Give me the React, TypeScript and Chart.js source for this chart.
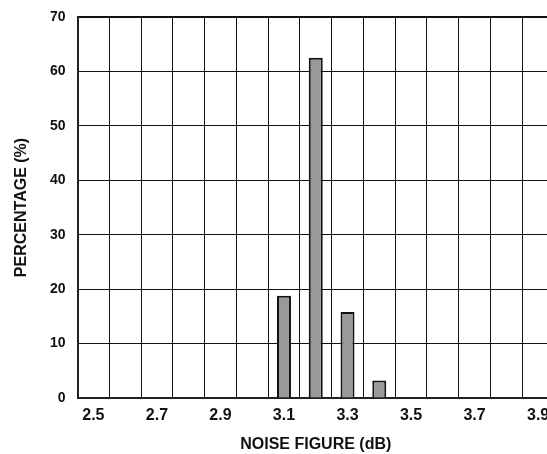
import React, { useEffect, useRef } from 'react';
import { Chart, registerables } from 'chart.js';

Chart.register(...registerables);

const categories = ['2.5', '2.6', '2.7', '2.8', '2.9', '3.0', '3.1', '3.2', '3.3', '3.4', '3.5', '3.6', '3.7', '3.8', '3.9'];
const percentages: (number | null)[] = [null, null, null, null, null, null, 18.8, 62.5, 15.8, 3.2, null, null, null, null, null];
const yMin = 0;
const yMax = 70;
const yStep = 10;
const xTitle = 'NOISE FIGURE (dB)';
const yTitle = 'PERCENTAGE (%)';

const FONT = "'Liberation Sans', Arial, Helvetica, sans-serif";

export default function App() {
  const canvasRef = useRef<HTMLCanvasElement | null>(null);

  useEffect(() => {
    if (!canvasRef.current) return;
    const chart = new Chart(canvasRef.current, {
      type: 'bar',
      data: {
        labels: categories,
        datasets: [
          {
            data: percentages,
            backgroundColor: '#999999',
            borderColor: '#111111',
            borderWidth: 2,
            barPercentage: 0.44,
            categoryPercentage: 1,
          },
        ],
      },
      options: {
        animation: false,
        responsive: false,
        devicePixelRatio: 1,
        layout: { padding: { left: 0, top: 17, right: 16, bottom: 0 } },
        plugins: {
          legend: { display: false },
          tooltip: { enabled: false },
        },
        scales: {
          x: {
            type: 'category',
            offset: true,
            grid: {
              offset: true,
              color: '#111111',
              lineWidth: 1,
              drawTicks: false,
            },
            border: { display: true, color: '#222222', width: 2 },
            ticks: {
              autoSkip: false,
              maxRotation: 0,
              minRotation: 0,
              padding: 8,
              color: '#111111',
              font: { family: FONT, size: 16, weight: 'bold' },
              callback: (_v: any, idx: number) => (idx % 2 === 0 ? categories[idx] : ''),
            },
            title: {
              display: true,
              text: xTitle,
              color: '#111111',
              font: { family: FONT, size: 16, weight: 'bold' },
              padding: { top: 0, bottom: 0 },
            },
            afterFit: (scale: any) => {
              scale.height = 56;
              scale.paddingLeft = 0;
              scale.paddingRight = 0;
              scale.paddingTop = 0;
              scale.paddingBottom = 0;
            },
          },
          y: {
            min: yMin,
            max: yMax,
            grid: {
              color: '#111111',
              lineWidth: (ctx: any) => (ctx.tick && ctx.tick.value === yMax ? 2 : 1),
              drawTicks: false,
            },
            border: { display: true, color: '#222222', width: 2 },
            ticks: {
              stepSize: yStep,
              padding: 12,
              color: '#111111',
              font: { family: FONT, size: 14, weight: 'bold' },
            },
            title: {
              display: true,
              text: yTitle,
              color: '#111111',
              font: { family: FONT, size: 16, weight: 'bold' },
              padding: { top: 12, bottom: 0 },
            },
            afterFit: (scale: any) => {
              scale.width = 77.5;
              scale.paddingLeft = 0;
              scale.paddingRight = 0;
              scale.paddingTop = 0;
              scale.paddingBottom = 0;
            },
          },
        },
      },
    });
    return () => chart.destroy();
  }, []);

  return (
    <div style={{ position: 'fixed', left: 0, top: 0, width: 547, height: 454, overflow: 'hidden', background: '#fff' }}>
      <canvas ref={canvasRef} width={570} height={454} style={{ display: 'block', width: 570, height: 454 }} />
    </div>
  );
}
